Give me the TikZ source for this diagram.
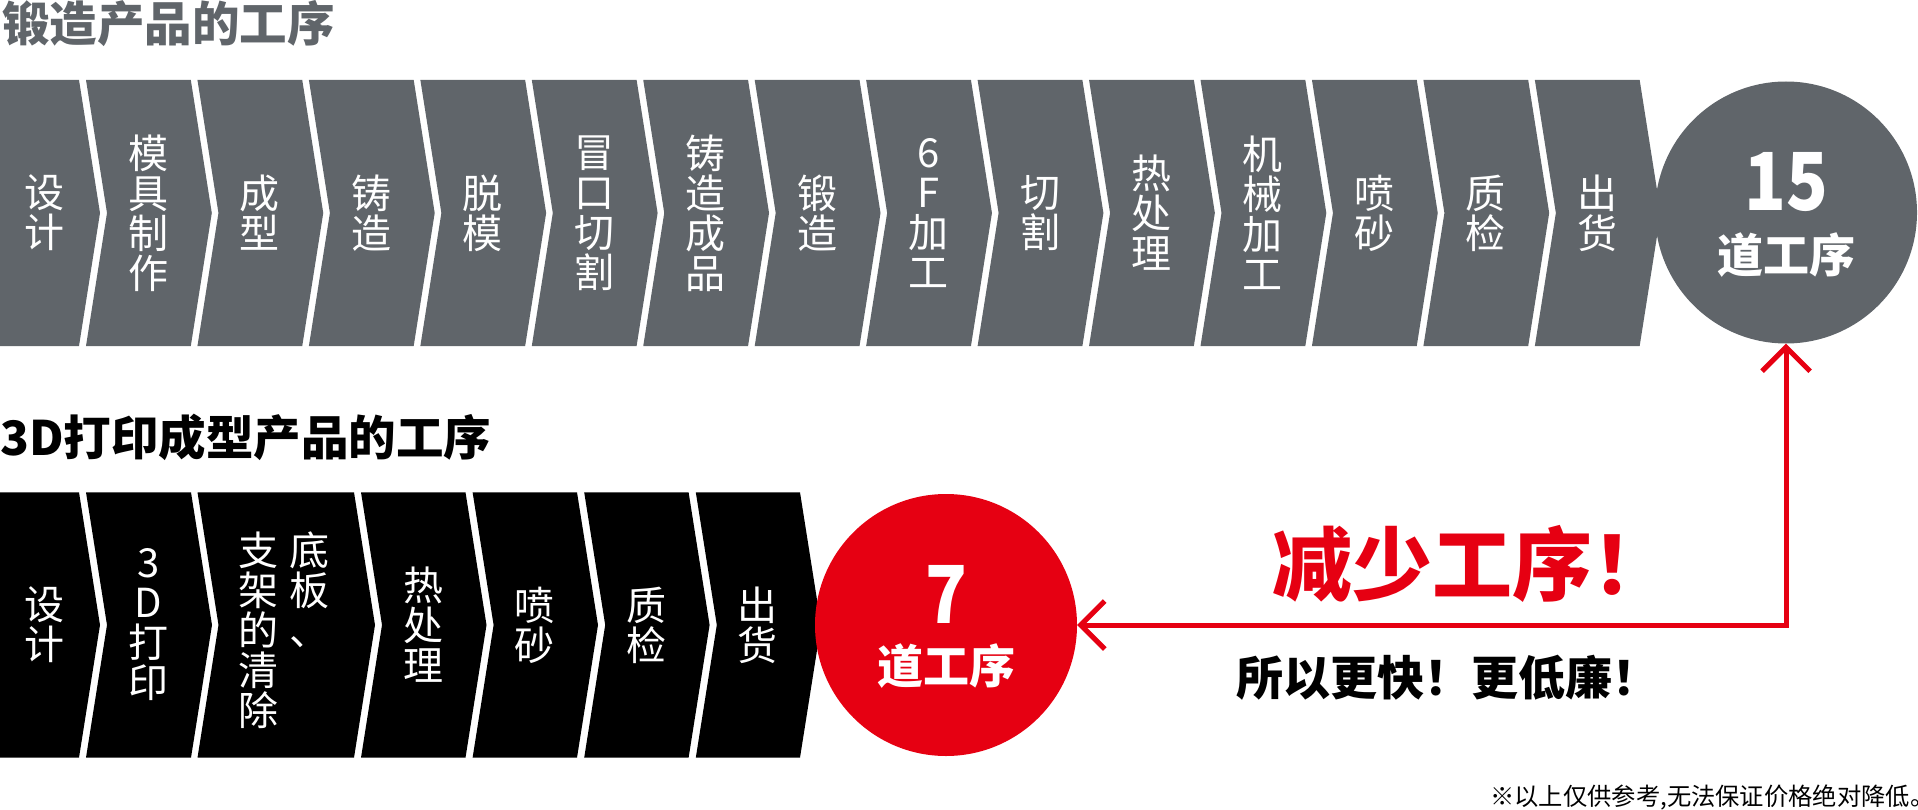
\documentclass[tikz,border=0pt]{standalone}
\usepackage{fontspec}
\newfontfamily\cjk{Noto Sans CJK SC}
\usetikzlibrary{arrows.meta}
\definecolor{fgray}{HTML}{60656A}
\definecolor{fred}{HTML}{E60012}
\tikzset{
  lab/.style={font=\cjk\fontsize{40}{40}\selectfont, text=white, align=center, inner sep=0pt},
  bigtitle/.style={font=\cjk\bfseries\fontsize{47.5}{47.5}\selectfont, anchor=west, inner sep=0pt},
  countnum/.style={font=\cjk\bfseries\fontsize{80}{80}\selectfont, text=white, inner sep=0pt, xscale=0.86, transform shape},
  counttxt/.style={font=\cjk\bfseries\fontsize{46}{46}\selectfont, text=white, inner sep=0pt},
  disc/.style={circle, inner sep=0pt, minimum size=262pt},
  redlink/.style={draw=fred, line width=5pt, line join=miter,
    {Straight Barb[length=24pt,width=48pt]}-{Straight Barb[length=24pt,width=48pt]}},
}
\newcommand\chevshape[5]{% L, R, top, bottom, colour ; notch depth 21 unless L=0
  \pgfmathsetmacro\cmid{(#3+#4)/2}%
  \pgfmathsetmacro\cnotch{ifthenelse(#1==0,0,21)}%
  \fill[#5] (#1,#3) -- (#2,#3) -- (#2+21,\cmid) -- (#2,#4) -- (#1,#4) -- (#1+\cnotch,\cmid) -- cycle;}
\newcommand\topchev[3]{% index, node name, label
  \pgfmathsetmacro\cL{86+(#1-1)*111.45}%
  \pgfmathsetmacro\cR{\cL+104.8}%
  \chevshape{\cL}{\cR}{80}{346}{fgray}%
  \node[lab] (#2) at (\cL+62.4,213) {#3};}
\begin{document}
\begin{tikzpicture}[x=1pt,y=-1pt]
\useasboundingbox (0,0) rectangle (1918,810);

% ---------- top row ----------
\node[bigtitle, text=fgray] (title1) at (2,24) {锻造产品的工序};
\chevshape{0}{79}{80}{346}{fgray}
\node[lab] (t0) at (44,213) {设\\计};
\topchev{1}{t1}{模\\具\\制\\作}
\topchev{2}{t2}{成\\型}
\topchev{3}{t3}{铸\\造}
\topchev{4}{t4}{脱\\模}
\topchev{5}{t5}{冒\\口\\切\\割}
\topchev{6}{t6}{铸\\造\\成\\品}
\topchev{7}{t7}{锻\\造}
\topchev{8}{t8}{6\\F\\加\\工}
\topchev{9}{t9}{切\\割}
\topchev{10}{t10}{热\\处\\理}
\topchev{11}{t11}{机\\械\\加\\工}
\topchev{12}{t12}{喷\\砂}
\topchev{13}{t13}{质\\检}
\topchev{14}{t14}{出\\货}
\node[disc, fill=fgray] (c15) at (1786,212.5) {};
\node[countnum] (n15) at (1786,182) {15};
\node[counttxt] (d15) at (1786,255) {道工序};

% ---------- bottom row ----------
\node[bigtitle, text=black] (title2) at (0,437.5) {3D打印成型产品的工序};
\chevshape{0}{79}{492.3}{757.7}{black}
\node[lab] (b0) at (44,625) {设\\计};
\chevshape{86}{191}{492.3}{757.7}{black}
\node[lab] (b1) at (148.5,625) {3\\D\\打\\印};
\chevshape{197.5}{354}{492.3}{757.7}{black}
\node[lab, anchor=north] (b2a) at (309,532) {底\\板\\、};
\node[lab, anchor=north] (b2b) at (258,532) {支\\架\\的\\清\\除};
\chevshape{361}{465.5}{492.3}{757.7}{black}
\node[lab] (b3) at (423.3,625) {热\\处\\理};
\chevshape{472.6}{577}{492.3}{757.7}{black}
\node[lab] (b4) at (534.8,625) {喷\\砂};
\chevshape{584.2}{688.6}{492.3}{757.7}{black}
\node[lab] (b5) at (646.4,625) {质\\检};
\chevshape{695.8}{800}{492.3}{757.7}{black}
\node[lab] (b6) at (757.9,625) {出\\货};
\node[disc, fill=fred] (c7) at (946,625) {};
\node[countnum] (n7) at (946,594) {7};
\node[counttxt] (d7) at (946,666) {道工序};

% ---------- connector ----------
\coordinate (corner) at (c7.east -| c15.south);
\draw[redlink] (c7.east) -- (corner) -- (c15.south);

% ---------- captions ----------
\node[font=\cjk\bfseries\fontsize{80}{80}\selectfont, text=fred, anchor=west, inner sep=0pt] (less) at (1272,564) {减少工序！};
\node[font=\cjk\bfseries\fontsize{47}{47}\selectfont, text=black, anchor=west, inner sep=0pt] (fast) at (1236,678) {所以更快！更低廉！};
\node[font=\cjk\fontsize{24.3}{24.3}\selectfont, text=black, anchor=west, inner sep=0pt] (note) at (1490,797) {※以上仅供参考,无法保证价格绝对降低。};
\end{tikzpicture}
\end{document}
